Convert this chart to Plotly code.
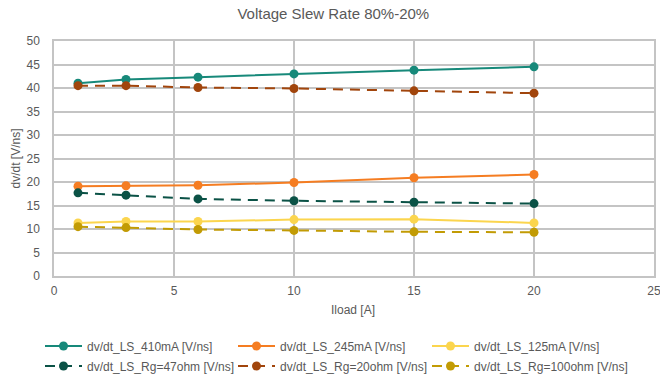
import plotly.graph_objects as go

# Load current sweep (A)
iload = [1, 3, 6, 10, 15, 20]

# Slew rate dv/dt [V/ns] per gate-drive configuration
ls_410mA = [41.0, 41.8, 42.3, 43.0, 43.8, 44.5]
ls_245mA = [19.1, 19.2, 19.3, 19.9, 20.9, 21.6]
ls_125mA = [11.3, 11.6, 11.6, 12.0, 12.1, 11.3]
ls_rg47 = [17.7, 17.2, 16.4, 16.0, 15.7, 15.4]
ls_rg20 = [40.5, 40.5, 40.1, 39.9, 39.4, 38.9]
ls_rg100 = [10.5, 10.3, 9.9, 9.7, 9.4, 9.3]

series = [
    ("dv/dt_LS_410mA [V/ns]", ls_410mA, "#17897a", "solid"),
    ("dv/dt_LS_245mA [V/ns]", ls_245mA, "#f57d22", "solid"),
    ("dv/dt_LS_125mA [V/ns]", ls_125mA, "#fbd54e", "solid"),
    ("dv/dt_LS_Rg=47ohm [V/ns]", ls_rg47, "#0b5246", "10px,7px"),
    ("dv/dt_LS_Rg=20ohm [V/ns]", ls_rg20, "#a1450c", "10px,7px"),
    ("dv/dt_LS_Rg=100ohm [V/ns]", ls_rg100, "#c29b04", "10px,7px"),
]

X_TITLE = "Iload [A]"
Y_TITLE = "dv/dt [V/ns]"

FONT = "Arial, Liberation Sans, sans-serif"
GRAY = "#595959"
GRID = "#c4c4c4"
W, H = 660, 379
ML, MR, MT, MB = 54, 6, 41, 103
PW, PH = W - ML - MR, H - MT - MB

# legend grid: three columns, two rows below the plot (pixel positions)
col_left = [40, 233, 427]
row_mid = [346, 366]

fig = go.Figure()
legends = {}
for i, (name, vals, color, dash) in enumerate(series):
    key = "legend" if i == 0 else f"legend{i + 1}"
    fig.add_trace(go.Scatter(
        x=iload, y=vals, name=name, mode="lines+markers",
        line=dict(color=color, width=2, dash=dash),
        marker=dict(color=color, size=9, symbol="circle"),
        legend=key,
    ))
    legends[key] = dict(
        x=col_left[i % 3] / W, y=1 - row_mid[i // 3] / H,
        xref="container", yref="container",
        xanchor="left", yanchor="middle", orientation="v",
        font=dict(family=FONT, size=12, color=GRAY),
        itemwidth=37, bgcolor="rgba(0,0,0,0)", borderwidth=0,
    )

fig.update_layout(
    width=W, height=H,
    margin=dict(l=ML, r=MR, t=MT, b=MB, autoexpand=False),
    paper_bgcolor="white", plot_bgcolor="white",
    font=dict(family=FONT, color=GRAY, size=12),
    title=dict(text="Voltage Slew Rate 80%-20%", x=0.505, xanchor="center",
               y=1 - 14 / H, yanchor="middle", yref="container",
               font=dict(family=FONT, size=15, color=GRAY)),
    showlegend=True,
    **legends,
)

# axis titles placed in paper coordinates
fig.add_annotation(text=X_TITLE, xref="paper", yref="paper",
                   x=(353 - ML) / PW, y=-(310 - (MT + PH)) / PH,
                   xanchor="center", yanchor="middle", showarrow=False,
                   font=dict(family=FONT, size=12, color=GRAY))
fig.add_annotation(text=Y_TITLE, xref="paper", yref="paper",
                   x=-(ML - 15) / PW, y=0.5, textangle=-90,
                   xanchor="center", yanchor="middle", showarrow=False,
                   font=dict(family=FONT, size=12, color=GRAY))

fig.update_xaxes(
    range=[0, 25], dtick=5, tick0=0,
    showgrid=True, gridcolor=GRID, gridwidth=1.5,
    showline=True, linecolor=GRID, linewidth=1.5, mirror=True,
    zeroline=False, ticks="", ticklabelstandoff=3,
    ticklabeloverflow="allow",
    tickfont=dict(family=FONT, size=12, color=GRAY),
)
fig.update_yaxes(
    range=[0, 50], dtick=5, tick0=0,
    showgrid=True, gridcolor=GRID, gridwidth=1.5,
    showline=True, linecolor=GRID, linewidth=1.5, mirror=True,
    zeroline=False, ticks="", ticklabelstandoff=10,
    tickfont=dict(family=FONT, size=12, color=GRAY),
)

fig.write_html("out.html")
